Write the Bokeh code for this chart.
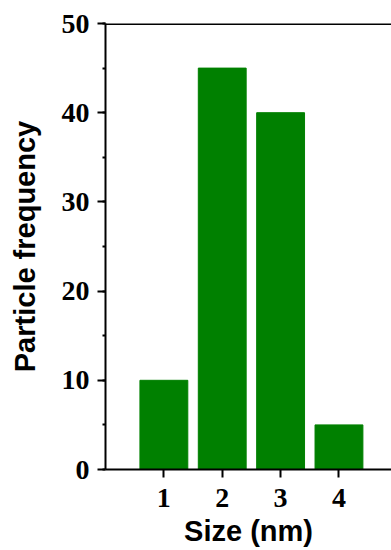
from bokeh.plotting import figure
from bokeh.models import Range1d, FixedTicker, SingleIntervalTicker, Span
from bokeh.embed import file_html
from bokeh.resources import INLINE

# Particle size distribution
sizes = [1, 2, 3, 4]          # nm
counts = [10, 45, 40, 5]      # particle frequency
x_ticks = [1, 2, 3, 4]

p = figure(
    width=391, height=550,
    x_range=Range1d(0, 4.9), y_range=Range1d(0, 50),
    output_backend="svg", toolbar_location=None,
    min_border_left=105, min_border_right=0,
    min_border_top=23, min_border_bottom=81,
    background_fill_color="white", border_fill_color="white",
)
p.outline_line_color = None
p.grid.visible = False

p.vbar(x=sizes, top=counts, width=0.82, fill_color="#008000", line_color="#008000")

# top frame line
p.add_layout(Span(location=50, dimension="width", line_color="black", line_width=3))

tick_font = "Liberation Serif"
label_font = "Liberation Sans"

xa = p.xaxis[0]
xa.ticker = FixedTicker(ticks=x_ticks)
xa.axis_label = "Size (nm)"
ya = p.yaxis[0]
ya.ticker = SingleIntervalTicker(interval=10, num_minor_ticks=2)
ya.axis_label = "Particle frequency"

for ax in (xa, ya):
    ax.axis_line_color = "black"
    ax.axis_line_width = 2
    ax.major_tick_line_color = "black"
    ax.major_tick_line_width = 2
    ax.major_tick_out = 8
    ax.major_tick_in = 0
    ax.minor_tick_line_color = "black"
    ax.minor_tick_line_width = 2
    ax.minor_tick_out = 3
    ax.minor_tick_in = 0
    ax.major_label_text_font = tick_font
    ax.major_label_text_font_style = "bold"
    ax.major_label_text_font_size = "28px"
    ax.major_label_text_color = "black"
    ax.axis_label_text_font = label_font
    ax.axis_label_text_font_style = "bold"
    ax.axis_label_text_font_size = "29px"
    ax.axis_label_text_color = "black"

xa.minor_tick_line_color = None
xa.major_label_standoff = 11
xa.axis_label_standoff = 5
ya.major_label_standoff = 8
ya.axis_label_standoff = 18

open("out.html", "w").write(file_html(p, INLINE))
